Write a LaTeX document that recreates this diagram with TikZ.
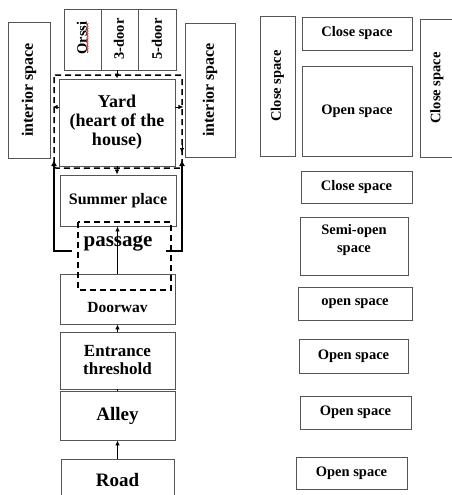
\documentclass[tikz,border=0pt]{standalone}
\usepackage{fontspec}
\setmainfont{Liberation Serif}
\usetikzlibrary{arrows.meta,decorations.pathmorphing,calc}
\definecolor{boxgray}{HTML}{555555}
\begin{document}
\begin{tikzpicture}[x=1pt,y=-1pt,
  bx/.style={draw=boxgray,line width=0.9pt,inner sep=0pt,font=\bfseries,align=center},
  rbx/.style={bx,font=\bfseries\fontsize{14.5}{18}\selectfont},
  lbl/.style={inner sep=0pt,font=\bfseries,align=center},
  arr/.style={-{Latex[length=5pt,width=4.5pt]},line width=0.8pt,black},
  dsh/.style={dashed,dash pattern=on 6pt off 4pt,line width=1.5pt,black},
  thk/.style={line width=2.4pt,black,-{Latex[length=6pt,width=6pt]}}]
\clip (0,0) rectangle (452,495);
\fill[white] (0,0) rectangle (452,495);
% ---------- left column ----------
\node[bx,minimum width=136pt,minimum height=42pt,rotate=90,font=\bfseries\fontsize{16}{18}\selectfont] (intL) at (29,90) {interior space};
\node[bx,minimum width=134pt,minimum height=50pt,rotate=90,font=\bfseries\fontsize{16}{18}\selectfont] (intR) at (210,90) {interior space};
\node[bx,minimum width=37pt,minimum height=61pt] (orssi) at (82.5,39.5) {};
\node[bx,minimum width=37pt,minimum height=61pt] (door3) at (119.5,39.5) {};
\node[bx,minimum width=38pt,minimum height=61pt] (door5) at (157,39.5) {};
\node[lbl,rotate=90,font=\bfseries\fontsize{14.5}{16}\selectfont] (orssit) at (82,38) {Orssi};
\node[lbl,rotate=90,font=\bfseries\fontsize{14.5}{16}\selectfont] (door3t) at (119,39) {3-door};
\node[lbl,rotate=90,font=\bfseries\fontsize{14.5}{16}\selectfont] (door5t) at (157,39) {5-door};
\coordinate (wv1) at (87.5,23);
\coordinate (wv2) at (87.5,53);
\draw[red,line width=0.6pt,decorate,decoration={snake,amplitude=0.7pt,segment length=2.5pt}] (wv1) -- (wv2);
\node[bx,minimum width=116pt,minimum height=87pt,font=\bfseries\fontsize{18}{19}\selectfont] (yard) at (117,122.5) {Yard\\(heart of the\\house)};
\node[bx,minimum width=116pt,minimum height=51pt,font=\bfseries\fontsize{16}{18}\selectfont] (summer) at (118,200.5) {Summer place};
\node[bx,minimum width=115pt,minimum height=50pt] (doorway) at (117.5,299) {};
\node[lbl,font=\bfseries\fontsize{15.5}{17}\selectfont] (doorwayt) at (117.5,307) {Doorwav};
\node[bx,minimum width=115pt,minimum height=57pt,font=\bfseries\fontsize{17}{18}\selectfont] (entrance) at (117.5,360.5) {Entrance\\threshold};
\node[bx,minimum width=115pt,minimum height=49pt,font=\bfseries\fontsize{19}{20}\selectfont] (alley) at (117.5,415.5) {Alley};
\node[bx,minimum width=113pt,minimum height=45pt] (road) at (117.5,481.5) {};
\node[lbl,font=\bfseries\fontsize{19}{20}\selectfont] (roadt) at (117.5,480) {Road};
% dashed frames
\draw[dsh,rounded corners=2pt] (54,75) rectangle (182,168);
\draw[dsh] (78,222) rectangle (171,290);
\node[lbl,font=\bfseries\fontsize{21}{22}\selectfont] (passage) at (118,243) {passage};
% thick return lines
\coordinate (tl0) at (72,251);
\coordinate (tl1) at (54,160);
\coordinate (tr0) at (166,251);
\coordinate (tr1) at (182,160);
\draw[thk] (tl0) -| (tl1);
\draw[thk] (tr0) -| (tr1);
% arrows
\coordinate (yw) at (yard.west |- 0,107);
\coordinate (ye) at (yard.east |- 0,107);
\coordinate (ywt) at ($(yw)+(-6,0)$);
\coordinate (yet) at ($(ye)+(8,0)$);
\draw[arr] (yard.north |- door3.south) -- (yard.north);
\draw[arr] (yw) -- (ywt);
\draw[arr] (ye) -- (yet);
\coordinate (rdA) at (182,140);
\coordinate (rdB) at (182,153);
\draw[arr] (rdA) -- (rdB);
\draw[arr] (yard.south) -- (summer.north -| yard.south);
\draw[arr] (doorway.north) -- (summer.south -| doorway.north);
\draw[arr] (entrance.north) -- (doorway.south);
\draw[line width=0.8pt] (alley.north) -- (entrance.south);
\draw[arr] (road.north) -- (alley.south);
% ---------- right column ----------
\node[rbx,minimum width=140pt,minimum height=35pt,rotate=90] (cs1) at (277.5,86) {Close space};
\node[rbx,minimum width=110pt,minimum height=33pt] (cs2) at (357,33.5) {Close space};
\node[rbx,minimum width=110pt,minimum height=90pt] (os1) at (357,111) {Open space};
\node[rbx,minimum width=138pt,minimum height=34pt,rotate=90] (cs3) at (437,88) {Close space};
\node[rbx,minimum width=111pt,minimum height=32pt] (cs4) at (356.5,187) {Close space};
\node[rbx,minimum width=108pt,minimum height=58pt] (semi) at (354,246) {};
\node[lbl,font=\bfseries\fontsize{14.5}{18}\selectfont] (semit) at (354,240) {Semi-open\\space};
\node[rbx,minimum width=114pt,minimum height=33pt] (op1) at (355,303.5) {open space};
\node[rbx,minimum width=109pt,minimum height=34pt] (op2) at (353.5,356) {Open space};
\node[rbx,minimum width=111pt,minimum height=33pt] (op3) at (355.5,412.5) {Open space};
\node[rbx,minimum width=111pt,minimum height=32pt] (op4) at (351.5,473) {Open space};
\end{tikzpicture}
\end{document}
